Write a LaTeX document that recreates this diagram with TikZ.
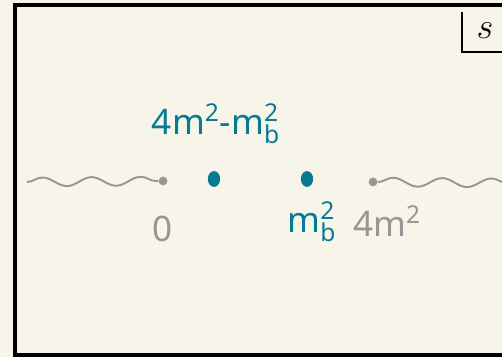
\documentclass[tikz,border=0pt]{standalone}
\usepackage{fontspec}
\setmainfont{Noto Sans}
\usetikzlibrary{decorations.pathmorphing,shapes.geometric}
\definecolor{paper}{RGB}{247,245,234}
\definecolor{polecol}{RGB}{8,122,148}
\definecolor{cutcol}{RGB}{150,150,150}
\tikzset{
  cut/.style={cutcol,line width=1.1pt,decorate,decoration={snake,segment length=28,amplitude=2.5}},
  pole/.style={ellipse,fill=polecol,inner sep=0pt,minimum width=7pt,minimum height=9pt},
  branch/.style={circle,fill=cutcol,inner sep=0pt,minimum size=5pt},
  lbl/.style={inner sep=0pt,font=\fontsize{20}{22}\selectfont}
}
\begin{document}
\begin{tikzpicture}[x=0.02cm,y=-0.02cm]
  \fill[paper] (0,0) rectangle (502,357);
  \useasboundingbox (0,0) rectangle (502,357);
  % frame and variable box
  \draw[line width=2pt] (502,5) -- (15,5) -- (15,355) -- (502,355);
  \draw[line width=1.5pt] (462,12) -- (462,52) -- (502,52);
  \node[lbl] (s) at (485,31) {$s$};

  % branch points and cuts
  \node[branch] (p0) at (163,181) {};
  \node[branch] (pth) at (373,182) {};
  \coordinate (cl) at (27,182);
  \coordinate (cr) at (510,183);
  \draw[cut] (cl) -- (p0);
  \draw[cut] (pth) -- (cr);

  % poles
  \node[pole] (pa) at (214,179) {};
  \node[pole] (pb) at (307,179) {};

  % labels
  \node[lbl,polecol] (la) at (216,124) {$\mathrm{4m^{2}\mbox{-}m_{b}^{2}}$};
  \node[lbl,cutcol] (l0) at (163,229) {0};
  \node[lbl,polecol] (lb) at (312,222) {$\mathrm{m_{b}^{2}}$};
  \node[lbl,cutcol] (lth) at (387,221) {$\mathrm{4m^{2}}$};
\end{tikzpicture}
\end{document}
